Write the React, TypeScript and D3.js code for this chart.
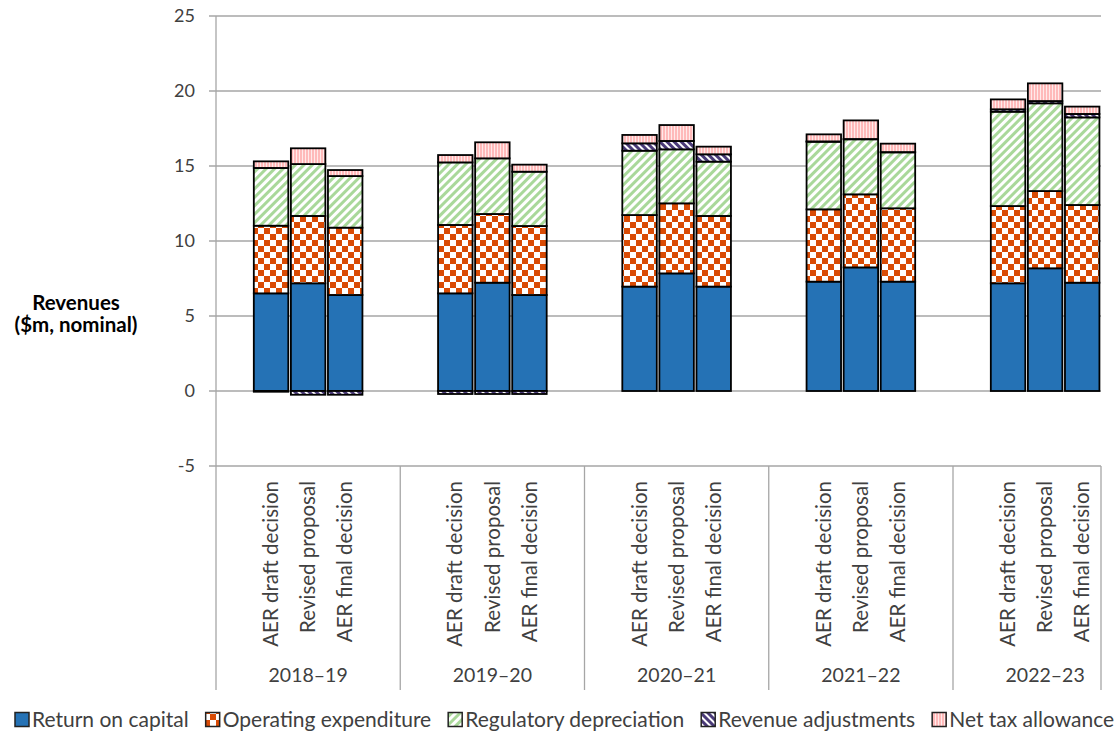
import { useRef, useEffect } from 'react';
import * as d3 from 'd3';

const years = ['2018–19', '2019–20', '2020–21', '2021–22', '2022–23'];
const scenarios = ['AER draft decision', 'Revised proposal', 'AER final decision'];
const seriesNames = [
  'Return on capital',
  'Operating expenditure',
  'Regulatory depreciation',
  'Revenue adjustments',
  'Net tax allowance',
];

// values per bar, in order year x scenario
const returnOnCapital = [6.51, 7.18, 6.4, 6.51, 7.22, 6.4, 6.96, 7.84, 6.96, 7.29, 8.24, 7.29, 7.18, 8.18, 7.22];
const operatingExpenditure = [4.51, 4.49, 4.49, 4.56, 4.58, 4.6, 4.77, 4.67, 4.71, 4.82, 4.87, 4.89, 5.15, 5.15, 5.18];
const regulatoryDepreciation = [3.85, 3.46, 3.44, 4.17, 3.71, 3.62, 4.29, 3.6, 3.62, 4.51, 3.67, 3.73, 6.29, 5.85, 5.84];
const revenueAdjustments = [-0.05, -0.25, -0.25, -0.2, -0.2, -0.2, 0.49, 0.56, 0.49, 0.02, 0.02, 0.02, 0.16, 0.15, 0.23];
const netTaxAllowance = [0.44, 1.05, 0.4, 0.49, 1.07, 0.47, 0.56, 1.06, 0.51, 0.47, 1.24, 0.56, 0.66, 1.18, 0.49];

const yTicks = [-5, 0, 5, 10, 15, 20, 25];

const fills = ['#2572B5', 'url(#pat-opex)', 'url(#pat-dep)', 'url(#pat-adj)', 'url(#pat-tax)'];
const FONT = 'Lato, "Open Sans", sans-serif';
const TEXT = '#404040';
const GRID = '#A6A6A6';

export default function App() {
  const svgRef = useRef<SVGSVGElement>(null);

  useEffect(() => {
    const svg = svgRef.current;
    if (!svg) return;
    const width = 1120;
    const height = 733;
    const plotLeft = 216;
    const plotRight = 1101;
    const groupStep = 184.25;

    const sel = d3.select(svg);
    sel.selectAll('*').remove();
    sel.attr('width', width).attr('height', height);

    // patterns
    const defs = sel.append('defs');
    const opex = defs.append('pattern').attr('id', 'pat-opex').attr('patternUnits', 'userSpaceOnUse')
      .attr('width', 12).attr('height', 12);
    opex.append('rect').attr('width', 12).attr('height', 12).attr('fill', '#fff');
    opex.append('rect').attr('width', 6).attr('height', 6).attr('fill', '#D94B05');
    opex.append('rect').attr('x', 6).attr('y', 6).attr('width', 6).attr('height', 6).attr('fill', '#D94B05');

    const dep = defs.append('pattern').attr('id', 'pat-dep').attr('patternUnits', 'userSpaceOnUse')
      .attr('width', 6).attr('height', 6).attr('patternTransform', 'rotate(45)');
    dep.append('rect').attr('width', 6).attr('height', 6).attr('fill', '#fff');
    dep.append('line').attr('x1', 1.5).attr('x2', 1.5).attr('y1', 0).attr('y2', 6)
      .attr('stroke', '#A9D89A').attr('stroke-width', 3);

    const adj = defs.append('pattern').attr('id', 'pat-adj').attr('patternUnits', 'userSpaceOnUse')
      .attr('width', 5).attr('height', 5).attr('patternTransform', 'rotate(-45)');
    adj.append('rect').attr('width', 5).attr('height', 5).attr('fill', '#fff');
    adj.append('line').attr('x1', 1.5).attr('x2', 1.5).attr('y1', 0).attr('y2', 5)
      .attr('stroke', '#4A3A78').attr('stroke-width', 3);

    const tax = defs.append('pattern').attr('id', 'pat-tax').attr('patternUnits', 'userSpaceOnUse')
      .attr('width', 3).attr('height', 3);
    tax.append('rect').attr('width', 3).attr('height', 3).attr('fill', '#FFEAEA');
    tax.append('line').attr('x1', 1).attr('x2', 1).attr('y1', 0).attr('y2', 3)
      .attr('stroke', '#FF9A9A').attr('stroke-width', 1.2);

    const x0 = d3.scaleBand<string>().domain(years).range([plotLeft, plotLeft + groupStep * years.length]);
    const x1 = d3.scaleBand<string>().domain(scenarios).range([0, groupStep]).paddingInner(0.07).paddingOuter(1.02);
    const y = d3.scaleLinear().domain([-5, 25]).range([466, 16]);

    // grid + ticks
    sel.append('g').selectAll('line').data(yTicks).join('line')
      .attr('x1', plotLeft - 7).attr('x2', plotRight)
      .attr('y1', (d) => y(d)).attr('y2', (d) => y(d))
      .attr('stroke', GRID).attr('stroke-width', 1.3);
    sel.append('g').selectAll('text').data(yTicks).join('text')
      .attr('x', 195).attr('y', (d) => y(d)).attr('dy', '0.35em')
      .attr('text-anchor', 'end').attr('font-family', FONT).attr('font-size', 18).attr('fill', TEXT)
      .text((d) => String(d));

    // axis lines
    const labelBottom = 690;
    sel.append('line').attr('x1', plotLeft).attr('x2', plotLeft).attr('y1', y(25)).attr('y2', labelBottom)
      .attr('stroke', GRID).attr('stroke-width', 1.3);
    sel.append('g').selectAll('line').data(years.slice(1)).join('line')
      .attr('x1', (d) => x0(d)!).attr('x2', (d) => x0(d)!)
      .attr('y1', y(-5)).attr('y2', labelBottom)
      .attr('stroke', GRID).attr('stroke-width', 1.3);
    sel.append('line').attr('x1', plotRight).attr('x2', plotRight).attr('y1', y(-5)).attr('y2', labelBottom)
      .attr('stroke', GRID).attr('stroke-width', 1.3);

    // stacked data
    const rows = years.flatMap((yr, gi) =>
      scenarios.map((sc, si) => {
        const i = gi * scenarios.length + si;
        return {
          year: yr,
          scenario: sc,
          [seriesNames[0]]: returnOnCapital[i],
          [seriesNames[1]]: operatingExpenditure[i],
          [seriesNames[2]]: regulatoryDepreciation[i],
          [seriesNames[3]]: revenueAdjustments[i],
          [seriesNames[4]]: netTaxAllowance[i],
        } as Record<string, any>;
      })
    );
    const stack = d3.stack<Record<string, any>>().keys(seriesNames).offset(d3.stackOffsetDiverging);
    const series = stack(rows);

    const bars = sel.append('g');
    series.forEach((s, k) => {
      bars.append('g').selectAll('rect').data(s).join('rect')
        .attr('x', (d) => x0(d.data.year)! + x1(d.data.scenario)!)
        .attr('width', x1.bandwidth())
        .attr('y', (d) => y(Math.max(d[0], d[1])))
        .attr('height', (d) => Math.abs(y(d[0]) - y(d[1])))
        .attr('fill', fills[k])
        .attr('stroke', '#000')
        .attr('stroke-width', 1.8);
    });

    // category labels
    const cat = sel.append('g').attr('font-family', FONT).attr('fill', TEXT);
    years.forEach((yr) => {
      scenarios.forEach((sc) => {
        const cx = x0(yr)! + x1(sc)! + x1.bandwidth() / 2;
        cat.append('text')
          .attr('transform', `translate(${cx},481) rotate(-90)`)
          .attr('text-anchor', 'end').attr('dy', '0.35em').attr('font-size', 20.5)
          .text(sc);
      });
      cat.append('text')
        .attr('x', x0(yr)! + groupStep / 2).attr('y', 682)
        .attr('text-anchor', 'middle').attr('font-size', 19.5)
        .text(yr);
    });

    // y title
    const title = sel.append('text').attr('font-family', FONT).attr('font-weight', 700)
      .attr('font-size', 20.5).attr('fill', '#000').attr('text-anchor', 'middle');
    title.append('tspan').attr('x', 76).attr('y', 310).text('Revenues');
    title.append('tspan').attr('x', 76).attr('y', 332).text('($m, nominal)');

    // legend
    const legend = sel.append('g').attr('font-family', FONT).attr('font-size', 21).attr('fill', TEXT);
    let lx = 15;
    seriesNames.forEach((name, k) => {
      legend.append('rect').attr('x', lx).attr('y', 712.5).attr('width', 14).attr('height', 14)
        .attr('fill', fills[k]).attr('stroke', '#222').attr('stroke-width', 1.5);
      const t = legend.append('text').attr('x', lx + 17).attr('y', 719.5).attr('dy', '0.35em').text(name);
      const w = (t.node() as SVGTextElement).getComputedTextLength();
      lx += 17 + w + 17;
    });
  }, []);

  return (
    <div style={{ position: 'absolute', left: 0, top: 0 }}>
      <svg ref={svgRef} style={{ display: 'block' }} />
    </div>
  );
}
